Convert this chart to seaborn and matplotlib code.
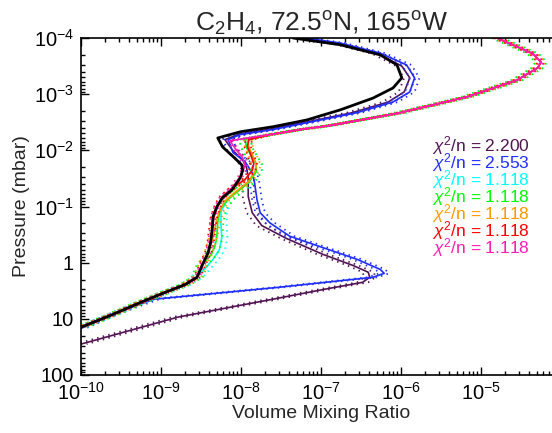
import matplotlib
matplotlib.use('Agg')
import matplotlib.pyplot as plt
import seaborn as sns
import numpy as np
import pandas as pd
from matplotlib.ticker import LogLocator, FixedLocator, FuncFormatter, NullFormatter

# profiles, as log10(VMR) and log10(pressure / mbar)
black_lx = [-7.35, -6.76, -6.26, -6.05, -5.99, -6.10, -6.35, -6.76, -7.18, -7.60, -8.01, -8.29, -8.23, -8.10, -7.99, -7.98,
            -8.01, -8.11, -8.23, -8.30, -8.35, -8.36, -8.38, -8.41, -8.48, -8.55, -8.70, -8.95, -9.26, -9.60, -10.0]
black_lp = [-4.0, -3.88, -3.70, -3.52, -3.29, -3.11, -2.93, -2.72, -2.54, -2.42, -2.33, -2.22, -2.06, -1.89, -1.74, -1.64,
            -1.51, -1.30, -1.16, -1.00, -0.82, -0.59, -0.36, -0.18, 0.03, 0.26, 0.39, 0.53, 0.71, 0.92, 1.15]

blue_lx = [-7.20, -6.76, -6.26, -5.93, -5.83, -5.89, -6.10, -6.55, -7.18, -7.60, -8.01, -8.16, -8.10, -7.95, -7.86, -7.83,
           -7.80, -7.76, -7.64, -7.39, -6.98, -6.55, -6.26, -6.21, -6.35, -7.54, -9.08, -9.26, -9.60, -10.0]
blue_lp = [-4.0, -3.91, -3.73, -3.52, -3.29, -3.04, -2.86, -2.67, -2.49, -2.37, -2.28, -2.19, -1.96, -1.80, -1.60, -1.42,
           -1.12, -0.89, -0.71, -0.47, -0.27, -0.06, 0.12, 0.19, 0.26, 0.44, 0.65, 0.74, 0.92, 1.17]

purple_lx = [-7.26, -6.76, -6.29, -5.99, -5.89, -5.96, -6.16, -6.61, -7.23, -7.66, -8.04, -8.20, -8.11, -7.98, -7.93, -7.91,
             -7.91, -7.86, -7.74, -7.43, -6.98, -6.60, -6.41, -6.39, -6.48, -6.98, -7.60, -8.79, -10.0]
purple_lp = [-4.0, -3.89, -3.72, -3.50, -3.29, -3.04, -2.86, -2.67, -2.49, -2.37, -2.28, -2.19, -2.01, -1.83, -1.69, -1.53,
             -1.18, -0.89, -0.66, -0.43, -0.15, 0.05, 0.17, 0.26, 0.35, 0.48, 0.65, 0.97, 1.45]

# shared upper bump and lower tail of the five 1.118 retrievals
upper_lx = [-4.80, -4.51, -4.35, -4.25, -4.29, -4.55, -5.18, -6.01, -6.85, -7.26, -7.64]
upper_lp = [-4.0, -3.82, -3.72, -3.57, -3.47, -3.25, -2.95, -2.67, -2.45, -2.37, -2.28]
tail_lx = [-8.55, -8.70, -8.95, -9.26, -9.60, -10.0]
tail_lp = [0.26, 0.39, 0.53, 0.71, 0.92, 1.15]

cyan_lx = [-7.95, -7.93, -7.87, -7.81, -7.81, -7.91, -8.06, -8.17, -8.25, -8.25, -8.24, -8.27, -8.35, -8.44]
cyan_lp = [-2.19, -2.05, -1.90, -1.76, -1.62, -1.42, -1.25, -1.12, -0.91, -0.68, -0.45, -0.23, -0.06, 0.09]
green_lx = [-7.95, -7.93, -7.87, -7.81, -7.81, -7.91, -8.06, -8.17, -8.26, -8.29, -8.30, -8.32, -8.37, -8.48]
green_lp = [-2.19, -2.05, -1.90, -1.76, -1.62, -1.42, -1.25, -1.12, -0.94, -0.73, -0.50, -0.32, -0.15, 0.03]
orange_lx = [-7.92, -7.90, -7.85, -7.81, -7.82, -7.91, -8.07, -8.21, -8.27, -8.31, -8.34, -8.38, -8.42, -8.48]
orange_lp = [-2.19, -2.05, -1.90, -1.76, -1.64, -1.44, -1.26, -1.09, -0.91, -0.73, -0.50, -0.30, -0.12, 0.03]
red_lx = [-7.90, -7.92, -7.88, -7.84, -7.86, -7.95, -8.10, -8.24, -8.30, -8.34, -8.36, -8.38, -8.41, -8.48]
red_lp = [-2.19, -2.07, -1.93, -1.76, -1.64, -1.48, -1.34, -1.16, -0.98, -0.80, -0.59, -0.36, -0.18, 0.03]
magenta_lx = [-8.14, -8.06, -7.98, -7.95, -7.99, -8.10, -8.23, -8.30, -8.35, -8.36, -8.38, -8.41, -8.48]
magenta_lp = [-2.17, -2.01, -1.87, -1.73, -1.57, -1.35, -1.18, -1.00, -0.82, -0.59, -0.36, -0.18, 0.03]

chi2 = ['2.200', '2.553', '1.118', '1.118', '1.118', '1.118', '1.118']
colors = ['#521352', '#1f2eff', '#00ffff', '#00ff00', '#ff9900', '#ff0000', '#ff1cb4']
err_dex = [0.07, 0.06, 0.07, 0.07, 0.05, 0.04, 0.03]   # 1-sigma, dotted lines

x_ticks = [1e-10, 1e-9, 1e-8, 1e-7, 1e-6, 1e-5]
p_ticks = [1e-4, 1e-3, 1e-2, 1e-1, 1, 10, 100]

profiles = [
    (purple_lx, purple_lp),
    (blue_lx, blue_lp),
    (upper_lx + cyan_lx + tail_lx, upper_lp + cyan_lp + tail_lp),
    (upper_lx + green_lx + tail_lx, upper_lp + green_lp + tail_lp),
    (upper_lx + orange_lx + tail_lx, upper_lp + orange_lp + tail_lp),
    (upper_lx + red_lx + tail_lx, upper_lp + red_lp + tail_lp),
    (upper_lx + magenta_lx + tail_lx, upper_lp + magenta_lp + tail_lp),
]

sns.set_style('ticks')
plt.rcParams['font.family'] = ['Liberation Sans', 'DejaVu Sans']
plt.rcParams['mathtext.fontset'] = 'custom'
plt.rcParams['mathtext.rm'] = 'Liberation Sans'
plt.rcParams['mathtext.it'] = 'Liberation Sans:italic'
plt.rcParams['mathtext.default'] = 'regular'

fig = plt.figure(figsize=(5.52, 4.33), dpi=100)
ax = fig.add_axes([81 / 552, 58 / 433, 480 / 552, 337 / 433])

for (lx, lp), c, e in zip(profiles, colors, err_dex):
    df = pd.DataFrame({'vmr': 10 ** np.array(lx), 'p': 10 ** np.array(lp)})
    for s in (-e, e):
        sns.lineplot(x=df['vmr'] * 10 ** s, y=df['p'], sort=False, estimator=None, color=c,
                     lw=1.3, linestyle=(0, (0.8, 2.4)), ax=ax)
    sns.lineplot(data=df, x='vmr', y='p', sort=False, estimator=None, color=c, lw=1.2, ax=ax)

df_b = pd.DataFrame({'vmr': 10 ** np.array(black_lx), 'p': 10 ** np.array(black_lp)})
sns.lineplot(data=df_b, x='vmr', y='p', sort=False, estimator=None, color='black', lw=2.0, ax=ax)

ax.set_xscale('log')
ax.set_yscale('log')
ax.set_xlim(1e-10, 1e-4)
ax.set_ylim(100, 1e-4)


def pfmt(v, pos):
    e = int(round(np.log10(v)))
    if e >= 0:
        return str(int(round(v)))
    return r'$10^{%d}$' % e


ax.xaxis.set_major_locator(FixedLocator(x_ticks))
ax.yaxis.set_major_locator(FixedLocator(p_ticks))
ax.xaxis.set_major_formatter(FuncFormatter(lambda v, pos: r'$10^{%d}$' % int(round(np.log10(v)))))
ax.yaxis.set_major_formatter(FuncFormatter(pfmt))
for a in (ax.xaxis, ax.yaxis):
    a.set_minor_locator(LogLocator(base=10, subs=np.arange(2, 10), numticks=20))
    a.set_minor_formatter(NullFormatter())
ax.tick_params(which='both', direction='in', top=True, right=True, labelsize=14.5, width=1, colors='black')
ax.tick_params(which='major', length=6, pad=5)
ax.tick_params(which='minor', length=3)
for sp in ax.spines.values():
    sp.set_linewidth(1.2)
    sp.set_color('black')

ax.set_xlabel('Volume Mixing Ratio', fontsize=14, labelpad=1)
ax.set_ylabel('Pressure (mbar)', fontsize=14, labelpad=3)
ax.set_title(r'C$_2$H$_4$, 72.5$^o$N, 165$^o$W', fontsize=19, pad=4)

for i, (v, c) in enumerate(zip(chi2, colors)):
    fig.text(530 / 552, 1 - (146 + 17 * i) / 433, r'$\it{\chi}^2$/n = ' + v, color=c,
             fontsize=12.5, ha='right', va='center')

fig.savefig('out.png', dpi=100)
